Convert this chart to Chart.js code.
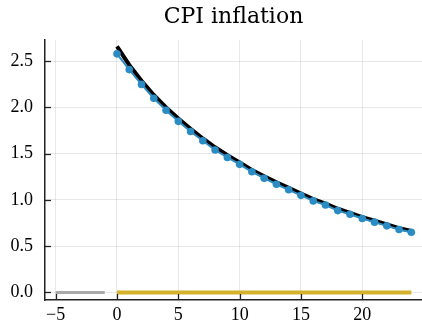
<!DOCTYPE html>
<html>
<head>
<meta charset="utf-8">
<script src="https://cdn.jsdelivr.net/npm/chart.js@4/dist/chart.umd.min.js"></script>
<style>
html,body{margin:0;padding:0;background:#fff;}
#wrap{width:422px;height:326px;}
</style>
</head>
<body>
<div id="wrap"><canvas id="c" width="422" height="326"></canvas></div>
<script>
const titleText = "CPI inflation";
const horizon = [0,1,2,3,4,5,6,7,8,9,10,11,12,13,14,15,16,17,18,19,20,21,22,23,24];
const preHorizon = [-5,-4,-3,-2,-1];
const modelPath = [2.58,2.41,2.25,2.10,1.97,1.85,1.74,1.64,1.54,1.46,1.385,1.305,1.235,1.17,1.11,1.05,0.99,0.945,0.885,0.845,0.80,0.76,0.72,0.68,0.65];
const targetPath = [2.66,2.46,2.29,2.135,2.0,1.88,1.77,1.665,1.57,1.485,1.405,1.325,1.255,1.19,1.13,1.07,1.01,0.96,0.905,0.86,0.815,0.775,0.735,0.695,0.665];
const preValues = [0,0,0,0,0];
const baseValues = [0,0,0,0,0,0,0,0,0,0,0,0,0,0,0,0,0,0,0,0,0,0,0,0,0];
const xTicks = [-5,0,5,10,15,20];
const yTicks = [0,0.5,1,1.5,2,2.5];

const pts = (xs, ys) => xs.map((x,i)=>({x:x,y:ys[i]}));
const FONT = "'Liberation Serif', 'DejaVu Serif', serif";
const TFONT = "'DejaVu Serif', 'Liberation Serif', serif";
const fmtX = v => (v < 0 ? "\u2212" + Math.abs(v) : String(v));

const innerTicks = {
  id: 'innerTicks',
  afterDraw(chart){
    const ctx = chart.ctx, a = chart.chartArea;
    const xs = chart.scales.x, ys = chart.scales.y;
    ctx.save();
    ctx.strokeStyle = '#222';
    ctx.lineWidth = 1.3;
    xTicks.forEach(v=>{
      const px = Math.round(xs.getPixelForValue(v))+0.5;
      ctx.beginPath(); ctx.moveTo(px, a.bottom); ctx.lineTo(px, a.bottom-6); ctx.stroke();
    });
    yTicks.forEach(v=>{
      const py = Math.round(ys.getPixelForValue(v))+0.5;
      ctx.beginPath(); ctx.moveTo(a.left, py); ctx.lineTo(a.left+6, py); ctx.stroke();
    });
    ctx.restore();
  }
};

new Chart(document.getElementById('c'), {
  type: 'line',
  data: {
    datasets: [
      {order:1, data: pts(horizon, modelPath), borderColor:'#2b8cc4', backgroundColor:'#2b8cc4', borderWidth:2, pointRadius:3.8, pointBorderWidth:0, pointBackgroundColor:'#2b8cc4', fill:false, tension:0},
      {order:2, data: pts(horizon, targetPath), borderColor:'#000000', borderWidth:4, pointRadius:0, fill:false, tension:0},
      {order:3, data: pts(horizon, baseValues), borderColor:'#d4b22c', borderWidth:4, pointRadius:0, fill:false, tension:0},
      {order:4, data: pts(preHorizon, preValues), borderColor:'#a9a9a9', borderWidth:3, pointRadius:0, fill:false, tension:0}
    ]
  },
  options: {
    responsive:false, animation:false, devicePixelRatio:1,
    layout:{padding:0, autoPadding:false},
    plugins:{
      legend:{display:false}, tooltip:{enabled:false},
      title:{display:true, text:titleText, fullSize:false, color:'#000',
        font:{family:TFONT, size:22, weight:'normal', lineHeight:1}, padding:{top:6,bottom:12}}
    },
    scales:{
      x:{type:'linear', min:-5.87, max:24.87,
        afterBuildTicks(s){ s.ticks = xTicks.map(v=>({value:v})); },
        afterFit(s){ s.height = 26; s.paddingLeft = 0; s.paddingRight = 0; },
        grid:{color:'rgba(0,0,0,0.09)', lineWidth:1, drawTicks:false},
        border:{display:true, color:'#222', width:1.5},
        ticks:{padding:4, color:'#000', font:{family:FONT, size:18}, callback:v=>fmtX(v), maxRotation:0, autoSkip:false}
      },
      y:{type:'linear', min:-0.082, max:2.73,
        afterBuildTicks(s){ s.ticks = yTicks.map(v=>({value:v})); },
        afterFit(s){ s.width = 45; s.paddingTop = 0; s.paddingBottom = 0; },
        grid:{color:'rgba(0,0,0,0.09)', lineWidth:1, drawTicks:false},
        border:{display:true, color:'#222', width:1.5},
        ticks:{padding:12, color:'#000', font:{family:FONT, size:18}, callback:v=>v.toFixed(1), autoSkip:false}
      }
    }
  },
  plugins:[innerTicks]
});
</script>
</body>
</html>
